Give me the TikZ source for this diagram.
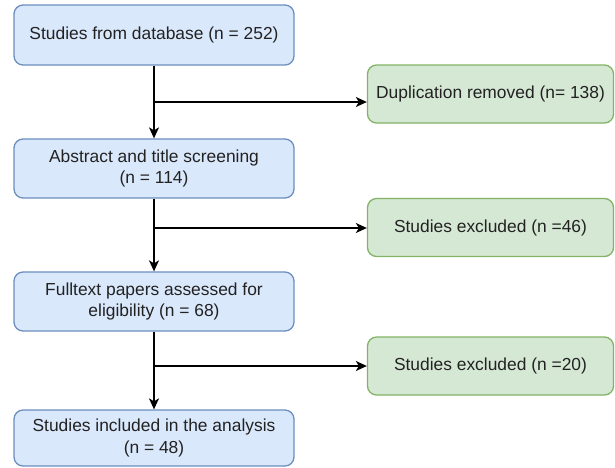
\documentclass[tikz,border=0pt]{standalone}
\usepackage{fontspec}
\setmainfont{Liberation Sans}
\usetikzlibrary{arrows.meta}
\definecolor{bluefill}{HTML}{DAE8FC}
\definecolor{bluedraw}{HTML}{6C8EBF}
\definecolor{greenfill}{HTML}{D5E8D4}
\definecolor{greendraw}{HTML}{82B366}
\definecolor{txt}{HTML}{222222}
\begin{document}
\begin{tikzpicture}[x=1pt,y=-1pt,
  every node/.style={font=\fontsize{17.4}{21.5}\selectfont, text=txt, align=center, inner sep=0pt},
  bluebox/.style={draw=bluedraw, fill=bluefill, line width=1.3pt, rounded corners=9pt, minimum width=280pt},
  greenbox/.style={draw=greendraw, fill=greenfill, line width=1.3pt, rounded corners=9pt, minimum width=246pt, minimum height=58pt},
  conn/.style={draw=black, line width=1.5pt},
  arr/.style={conn, -{Stealth[length=11pt,width=10pt,inset=3pt]}}
]
\useasboundingbox (0,0) rectangle (615,467);
\node[bluebox, minimum height=60pt] (b1) at (154,35) {Studies from database (n = 252)};
\node[bluebox, minimum height=59pt] (b2) at (154,168.5) {Abstract and title screening\\(n = 114)};
\node[bluebox, minimum height=59pt] (b3) at (154,301.5) {Fulltext papers assessed for\\eligibility (n = 68)};
\node[bluebox, minimum height=56pt] (b4) at (154,438) {Studies included in the analysis\\(n = 48)};
\node[greenbox] (g1) at (490.5,94) {Duplication removed (n= 138)};
\node[greenbox] (g2) at (490.5,227.5) {Studies excluded (n =46)};
\node[greenbox] (g3) at (490.5,366) {Studies excluded (n =20)};
\coordinate (j1) at (154,102);
\coordinate (j2) at (154,228);
\coordinate (j3) at (154,366);
\draw[arr] (b1) -- (b2);
\draw[arr] (b2) -- (b3);
\draw[arr] (b3) -- (b4);
\draw[arr] (j1) -- (g1.west |- j1);
\draw[arr] (j2) -- (g2.west |- j2);
\draw[arr] (j3) -- (g3.west |- j3);
\end{tikzpicture}
\end{document}
